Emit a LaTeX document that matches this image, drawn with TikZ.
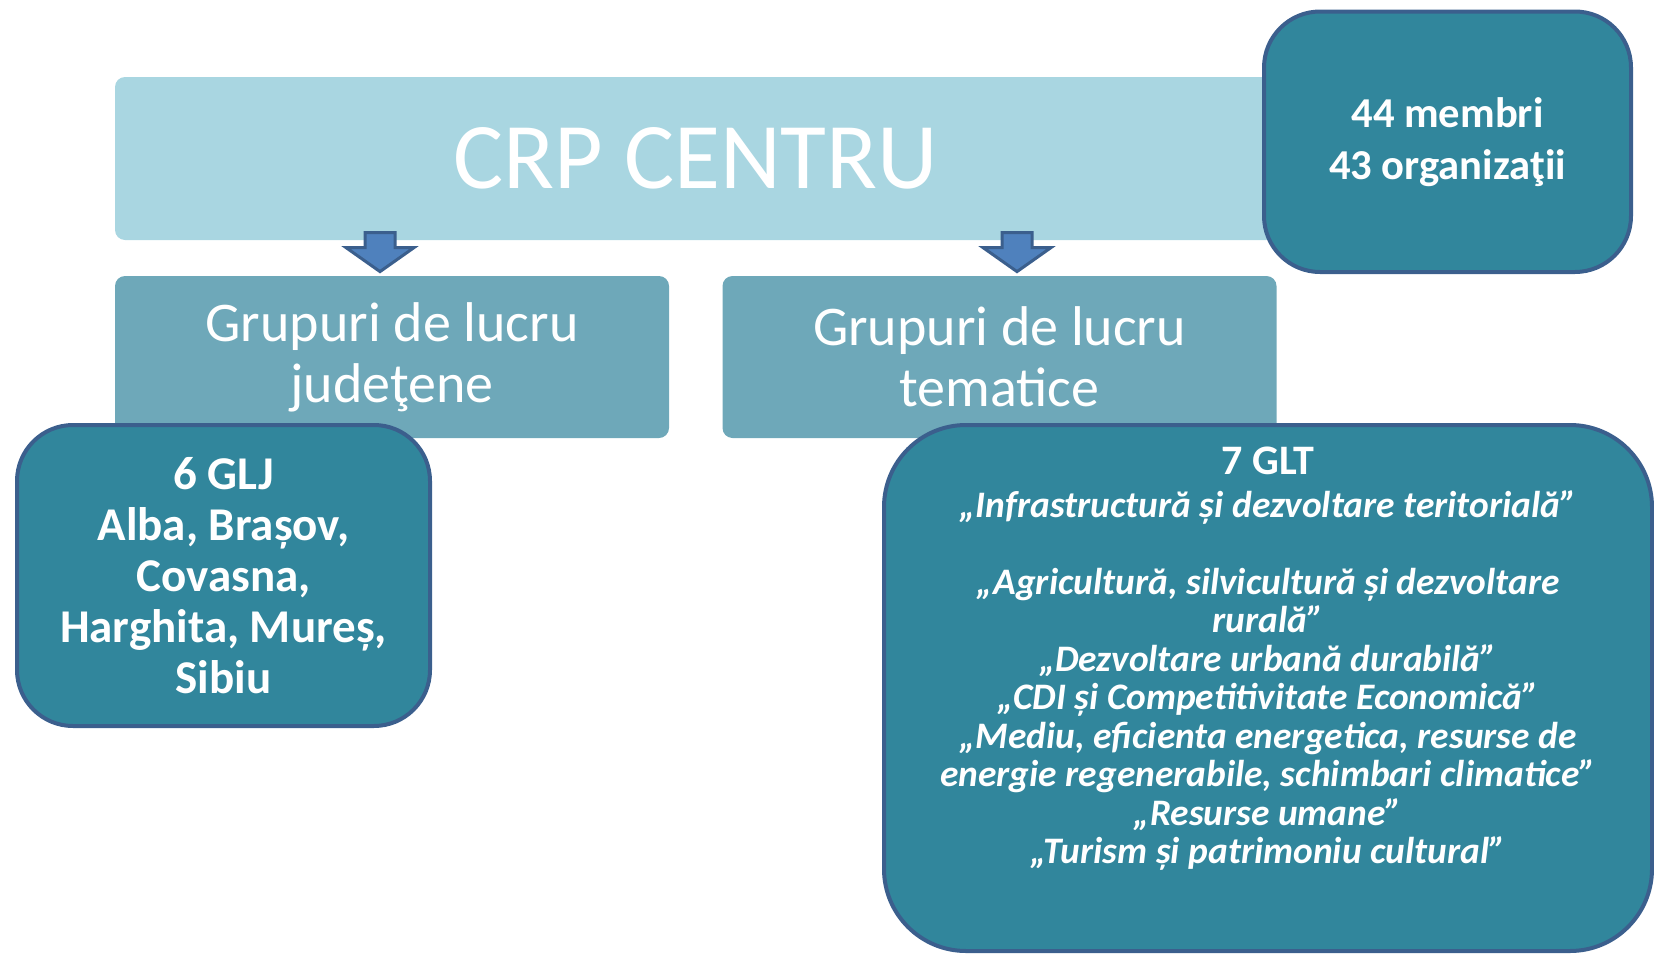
\documentclass[tikz,border=0pt]{standalone}
\usepackage{fontspec}
\setmainfont{Carlito}
\usetikzlibrary{positioning,calc}

\definecolor{paleaqua}{RGB}{169,214,225}
\definecolor{midaqua}{RGB}{110,168,185}
\definecolor{darkaqua}{RGB}{49,134,156}
\definecolor{edgeblue}{RGB}{59,95,141}
\definecolor{arrowblue}{RGB}{79,129,189}

\tikzset{
  palebox/.style={fill=paleaqua, rounded corners=5pt, inner sep=0pt, text=white, align=center},
  groupbox/.style={fill=midaqua, rounded corners=5pt, inner sep=0pt, minimum width=277pt, minimum height=81pt,
    text=white, align=center, font=\fontsize{28}{30.5}\selectfont},
  infobox/.style={fill=darkaqua, draw=edgeblue, line width=2pt, rounded corners=28pt, inner sep=0pt,
    text=white, align=center, font=\bfseries\fontsize{23.5}{25.5}\selectfont},
  downarrow/.style={fill=arrowblue, draw=edgeblue, line width=1.5pt, line join=miter}
}

\begin{document}
\begin{tikzpicture}[x=0.5pt,y=0.5pt,yscale=-1,xscale=1]
\useasboundingbox (0,0) rectangle (1654,953);

% top level
\node[palebox, minimum width=580.5pt, minimum height=81.5pt, font=\fontsize{47}{48}\selectfont] (crp) at (695.5,158.5) {CRP CENTRU};
\node[infobox, minimum width=183.5pt, minimum height=130.25pt, font=\bfseries\fontsize{21.3}{26}\selectfont] (members) at (1447.5,141.75) {44 membri\\43 organizaţii};

% working groups
\node[groupbox] (glj) at (392,357) {Grupuri de lucru\\judeţene};
\node[groupbox] (glt) at (999.5,357) {Grupuri de lucru\\tematice};

% arrows from CRP to the groups
\foreach \grp/\dx in {glj/-12, glt/17.5}
  \draw[downarrow] ($(\grp.north)+(\dx-15,-43)$) -- ($(\grp.north)+(\dx+15,-43)$)
    -- ($(\grp.north)+(\dx+15,-28)$) -- ($(\grp.north)+(\dx+34,-28)$)
    -- ($(\grp.north)+(\dx,-4)$) -- ($(\grp.north)+(\dx-34,-28)$)
    -- ($(\grp.north)+(\dx-15,-28)$) -- cycle;

% details
\node[infobox, minimum width=206.5pt, minimum height=150.5pt] (countylist) at (223.5,575.5)
  {6 GLJ\\Alba, Brașov,\\Covasna,\\Harghita, Mureș,\\Sibiu};
\node[infobox, rounded corners=41pt, minimum width=384pt, minimum height=263pt] (themebox) at (1268,688) {};
\node[text=white, align=center, inner sep=0pt, font=\bfseries\itshape\fontsize{18.7}{19.25}\selectfont] (themelist) at (1268,659)
  {{\upshape\fontsize{21}{24}\selectfont 7 GLT}\\[2pt]
   „Infrastructură și dezvoltare teritorială”\\[19.25pt]
   „Agricultură, silvicultură și dezvoltare\\
   rurală”\\
   „Dezvoltare urbană durabilă”\\
   „CDI și Competitivitate Economică”\\
   „Mediu, eficienta energetica, resurse de\\
   energie regenerabile, schimbari climatice”\\
   „Resurse umane”\\
   „Turism și patrimoniu cultural”};

\end{tikzpicture}
\end{document}
